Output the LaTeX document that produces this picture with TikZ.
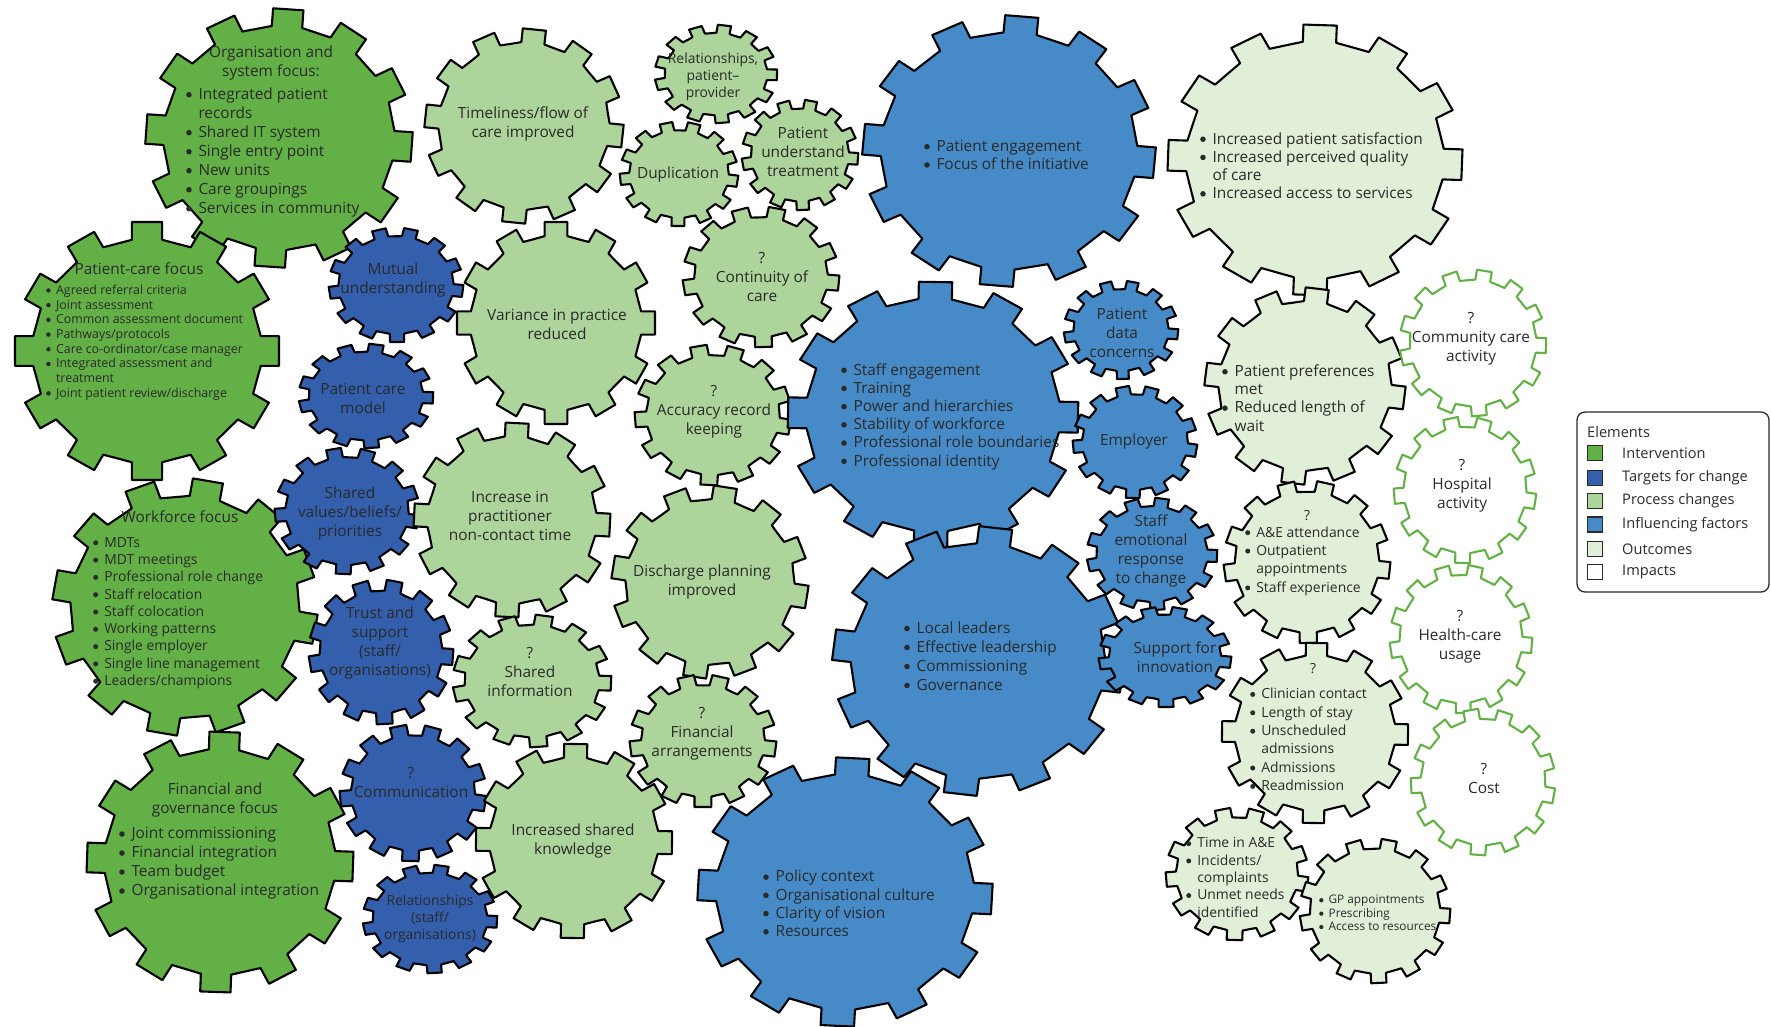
\documentclass[tikz,border=0pt]{standalone}
\usepackage{fontspec}
\setmainfont{Open Sans}
\definecolor{cInt}{HTML}{63B146}
\definecolor{cTgt}{HTML}{335FAC}
\definecolor{cProc}{HTML}{ADD49B}
\definecolor{cInf}{HTML}{468BC8}
\definecolor{cOut}{HTML}{E1EFD8}
\definecolor{cTxt}{HTML}{2A2A2A}
\newcommand\fA{\fontsize{15.4}{19}\selectfont}
\newcommand\fAs{\fontsize{15.4}{18.2}\selectfont}
\newcommand\fB{\fontsize{13.9}{17.3}\selectfont}
\newcommand\fBl{\fontsize{13.9}{18.4}\selectfont}
\newcommand\fC{\fontsize{12.4}{14.7}\selectfont}
\newcommand\fD{\fontsize{11.8}{13.4}\selectfont}
\newcommand\fL{\fontsize{14.6}{19}\selectfont}
\newcommand\bu{\makebox[0.8em][l]{\tikz[baseline=0pt]\fill[cTxt] (0.18em,0.31em) circle[radius=0.18em];}}
\newcommand\bc{\hspace*{0.8em}}
% #1 cx #2 cy #3 rx #4 ry #5 teeth #6 depth #7 half tooth width #8 rotation #9 style
\newcommand\drawgear[9]{%
 \pgfmathsetmacro\gs{360/#5}%
 \pgfmathsetmacro\ai{1-2*#6/(#3+#4)}%
 \pgfmathsetmacro\bn{2*#7/(#3+#4)}%
 \draw[gearline,#9] ({#1+#3*\ai*cos(#8-0.5*\gs)},{#2+#4*\ai*sin(#8-0.5*\gs)})
  \foreach \k [evaluate=\k as \t using #8+(\k-1)*\gs] in {1,...,#5}{
    -- ({#1+#3*(\ai*cos(\t)+\bn*sin(\t))},{#2+#4*(\ai*sin(\t)-\bn*cos(\t))})
    -- ({#1+#3*(cos(\t)+\bn*sin(\t))},{#2+#4*(sin(\t)-\bn*cos(\t))})
    -- ({#1+#3*(cos(\t)-\bn*sin(\t))},{#2+#4*(sin(\t)+\bn*cos(\t))})
    -- ({#1+#3*(\ai*cos(\t)-\bn*sin(\t))},{#2+#4*(\ai*sin(\t)+\bn*cos(\t))})
    -- ({#1+#3*\ai*cos(\t+0.5*\gs)},{#2+#4*\ai*sin(\t+0.5*\gs)})
  } -- cycle;}
\tikzset{
 gearline/.style={line width=2.1pt,line join=round,draw=black},
 gInt/.style={fill=cInt}, gTgt/.style={fill=cTgt}, gProc/.style={fill=cProc},
 gInf/.style={fill=cInf}, gOut/.style={fill=cOut}, gImp/.style={fill=white,draw=cInt},
 lbl/.style={text=cTxt,inner sep=0pt,align=center,font=\fA},
 lst/.style={text=cTxt,inner sep=0pt,align=left,anchor=west,font=\fA},
 sq/.style={draw=cTxt,line width=1.2pt,minimum size=15pt,inner sep=0pt},
}
\begin{document}
\begin{tikzpicture}[x=1pt,y=-1pt]
\useasboundingbox (0,0) rectangle (1771,1026);
% ---- gears ----
\drawgear{279}{138}{133}{129}{12}{18}{15}{4}{gInt}
\drawgear{147}{351}{132}{129}{12}{18}{15}{0}{gInt}
\drawgear{185}{607}{132}{128}{12}{18}{15}{10}{gInt}
\drawgear{220}{862}{133}{130}{12}{18}{15}{2}{gInt}
\drawgear{396}{285}{67}{57}{13}{9}{6.5}{6}{gTgt}
\drawgear{366}{396}{67}{52}{13}{9}{6.5}{2}{gTgt}
\drawgear{347}{511}{72}{63}{13}{10}{7}{10}{gTgt}
\drawgear{381}{652}{72}{72}{13}{11}{8}{4}{gTgt}
\drawgear{413}{793}{73}{68}{13}{11}{8}{9}{gTgt}
\drawgear{430}{919}{67}{54}{13}{9}{6.5}{3}{gTgt}
\drawgear{524}{126}{99}{97}{12}{14}{11.5}{6}{gProc}
\drawgear{716}{74}{61}{49}{13}{9}{6}{1}{gProc}
\drawgear{679}{174}{59}{52}{13}{9}{6}{8}{gProc}
\drawgear{800}{155}{58}{55}{13}{9}{6}{4}{gProc}
\drawgear{556}{323}{99}{101}{12}{14}{11.5}{0}{gProc}
\drawgear{761}{277}{78}{70}{13}{11}{8}{5}{gProc}
\drawgear{713}{415}{78}{70}{13}{11}{8}{10}{gProc}
\drawgear{512}{520}{98}{97}{12}{14}{11.5}{3}{gProc}
\drawgear{710}{582}{98}{96}{12}{14}{11.5}{9}{gProc}
\drawgear{532}{681}{79}{66}{13}{11}{8}{2}{gProc}
\drawgear{703}{741}{73}{66}{13}{11}{8}{7}{gProc}
\drawgear{574}{841}{98}{97}{12}{14}{11.5}{1}{gProc}
\drawgear{1009}{151}{146}{135}{12}{18}{16}{5}{gInf}
\drawgear{933}{415}{145}{133}{12}{18}{16}{1}{gInf}
\drawgear{1121}{330}{57}{49}{13}{9}{5.5}{5}{gInf}
\drawgear{1135}{442}{62}{56}{13}{9}{6.5}{9}{gInf}
\drawgear{1152}{554}{65}{56}{13}{9}{6.5}{2}{gInf}
\drawgear{978}{661}{145}{134}{12}{18}{16}{7}{gInf}
\drawgear{1165}{657}{66}{50}{13}{9}{6.5}{6}{gInf}
\drawgear{845}{892}{147}{134}{12}{18}{16}{3}{gInf}
\drawgear{1315}{160}{147}{135}{12}{18}{16}{2}{gOut}
\drawgear{1305}{386}{100}{98}{12}{14}{11.5}{7}{gOut}
\drawgear{1307}{562}{83}{81}{13}{11}{8.5}{6}{gOut}
\drawgear{1315}{733}{93}{90}{12}{13}{10.5}{1}{gOut}
\drawgear{1237}{874}{71}{66}{13}{10}{7.5}{9}{gOut}
\drawgear{1375}{911}{75}{72}{13}{10}{7.5}{4}{gOut}
\drawgear{1473}{343}{73}{73}{13}{10}{7.5}{2}{gImp}
\drawgear{1465}{490}{71}{73}{13}{10}{7.5}{9}{gImp}
\drawgear{1461}{639}{71}{74}{13}{10}{7.5}{5}{gImp}
\drawgear{1483}{782}{72}{73}{13}{10}{7.5}{11}{gImp}
% ---- texts ----
\node[lbl] (t1a) at (271,62.5) {Organisation and\\system focus:};
\node[lst] (t1b) at (186,152.5) {\bu Integrated patient\\\bc records\\\bu Shared IT system\\\bu Single entry point\\\bu New units\\\bu Care groupings\\\bu Services in community};
\node[lbl] (t2a) at (139,269) {Patient-care focus};
\node[lst,font=\fC] (t2b) at (46,342.5) {\bu Agreed referral criteria\\\bu Joint assessment\\\bu Common assessment document\\\bu Pathways/protocols\\\bu Care co-ordinator/case manager\\\bu Integrated assessment and\\\bc treatment\\\bu Joint patient review/discharge};
\node[lbl] (t3) at (393,280) {Mutual\\understanding};
\node[lbl] (t4) at (363,398) {Patient care\\model};
\node[lbl] (t5) at (350,513) {Shared\\values/beliefs/\\priorities};
\node[lbl] (t6a) at (180,517) {Workforce focus};
\node[lst,font=\fB] (t6b) at (93,613) {\bu MDTs\\\bu MDT meetings\\\bu Professional role change\\\bu Staff relocation\\\bu Staff colocation\\\bu Working patterns\\\bu Single employer\\\bu Single line management\\\bu Leaders/champions};
\node[lbl] (t7) at (380,643) {Trust and\\support\\(staff/\\organisations)};
\node[lbl] (t8a) at (215,799.5) {Financial and\\governance focus};
\node[lst] (t8b) at (119,863.5) {\bu Joint commissioning\\\bu Financial integration\\\bu Team budget\\\bu Organisational integration};
\node[lbl] (t9) at (411,782) {?\\Communication};
\node[lbl,font=\fB] (t10) at (430,919) {Relationships\\(staff/\\organisations)};
\node[lbl] (t11) at (523,124) {Timeliness/flow of\\care improved};
\node[lbl,font=\fB] (t12) at (713,77) {Relationships,\\patient–\\provider};
\node[lbl] (t13) at (678,174) {Duplication};
\node[lbl] (t14) at (803,152) {Patient\\understand\\treatment};
\node[lbl] (t15) at (557,324) {Variance in practice\\reduced};
\node[lbl] (t16) at (762,277) {?\\Continuity of\\care};
\node[lbl] (t17) at (714,412) {?\\Accuracy record\\keeping};
\node[lbl] (t18) at (510,516) {Increase in\\practitioner\\non-contact time};
\node[lbl] (t19) at (702,582) {Discharge planning\\improved};
\node[lbl] (t20) at (530,672) {?\\Shared\\information};
\node[lbl] (t21) at (702,734) {?\\Financial\\arrangements};
\node[lbl] (t22) at (573,841) {Increased shared\\knowledge};
\node[lst,font=\fAs] (t23) at (924,155) {\bu Patient engagement\\\bu Focus of the initiative};
\node[lst,font=\fAs] (t24) at (841,416.5) {\bu Staff engagement\\\bu Training\\\bu Power and hierarchies\\\bu Stability of workforce\\\bu Professional role boundaries\\\bu Professional identity};
\node[lbl] (t25) at (1122,333) {Patient\\data\\concerns};
\node[lbl] (t26) at (1134,441) {Employer};
\node[lbl] (t27) at (1151,551) {Staff\\emotional\\response\\to change};
\node[lst] (t28) at (904,656) {\bu Local leaders\\\bu Effective leadership\\\bu Commissioning\\\bu Governance};
\node[lbl] (t29) at (1175,657) {Support for\\innovation};
\node[lst,font=\fAs] (t30) at (763,903.5) {\bu Policy context\\\bu Organisational culture\\\bu Clarity of vision\\\bu Resources};
\node[lst,font=\fAs] (t31) at (1200,165.5) {\bu Increased patient satisfaction\\\bu Increased perceived quality\\\bc of care\\\bu Increased access to services};
\node[lst,font=\fAs] (t32) at (1222,398) {\bu Patient preferences\\\bc met\\\bu Reduced length of\\\bc wait};
\node[lbl] (t33) at (1471,339) {?\\Community care\\activity};
\node[lbl] (t34) at (1462,486) {?\\Hospital\\activity};
\node[lbl] (t35) at (1460,637) {?\\Health-care\\usage};
\node[lbl] (t36) at (1484,778) {?\\Cost};
\node[lbl,font=\fB] (t37q) at (1307,516) {?};
\node[lst,font=\fBl] (t37) at (1245,561) {\bu A\&E attendance\\\bu Outpatient\\\bc appointments\\\bu Staff experience};
\node[lbl,font=\fB] (t38q) at (1313,669) {?};
\node[lst,font=\fBl] (t38) at (1250,739.5) {\bu Clinician contact\\\bu Length of stay\\\bu Unscheduled\\\bc admissions\\\bu Admissions\\\bu Readmission};
\node[lst,font=\fB] (t39) at (1186,877.5) {\bu Time in A\&E\\\bu Incidents/\\\bc complaints\\\bu Unmet needs\\\bc identified};
\node[lst,font=\fD] (t40) at (1319,913) {\bu GP appointments\\\bu Prescribing\\\bu Access to resources};
% ---- legend ----
\draw[draw=cTxt,line width=1.3pt,rounded corners=8pt] (1577,412) rectangle (1769,592);
\node[lst,font=\fL] (lgt) at (1587,432) {Elements};
\node[sq,fill=cInt] (s1) at (1595,453) {};
\node[sq,fill=cTgt] (s2) at (1595,478) {};
\node[sq,fill=cProc] (s3) at (1595,501) {};
\node[sq,fill=cInf] (s4) at (1595,524.5) {};
\node[sq,fill=cOut] (s5) at (1595,549) {};
\node[sq,fill=white] (s6) at (1595,572) {};
\node[lst,font=\fL] (l1) at (1622,453) {Intervention};
\node[lst,font=\fL] (l2) at (1622,478) {Targets for change};
\node[lst,font=\fL] (l3) at (1622,501) {Process changes};
\node[lst,font=\fL] (l4) at (1622,524.5) {Influencing factors};
\node[lst,font=\fL] (l5) at (1622,549) {Outcomes};
\node[lst,font=\fL] (l6) at (1622,572) {Impacts};
\end{tikzpicture}
\end{document}
